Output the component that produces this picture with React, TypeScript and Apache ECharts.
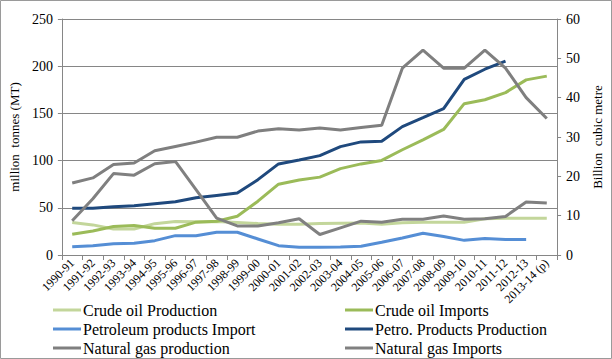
import React, { useEffect, useRef } from 'react';
import * as echarts from 'echarts';

const categories = [
  '1990-91', '1991-92', '1992-93', '1993-94', '1994-95', '1995-96', '1996-97', '1997-98',
  '1998-99', '1999-00', '2000-01', '2001-02', '2002-03', '2003-04', '2004-05', '2005-06',
  '2006-07', '2007-08', '2008-09', '2009-10', '2010-11', '2011-12', '2012-13', '2013-14 (p)',
];

// million tonnes (left axis)
const crudeOilProduction = [34.4, 31.9, 27.5, 27.5, 33.2, 35.6, 35.1, 35.5, 34.4, 33.3, 32.6, 32.6, 33.3, 33.7, 34.0, 32.6, 34.2, 34.6, 34.6, 34.6, 38.3, 38.9, 38.9, 38.9];
const crudeOilImports = [22.0, 25.5, 30.1, 31.2, 28.4, 28.4, 34.8, 35.8, 41.0, 57.0, 75.0, 79.5, 82.5, 91.5, 96.5, 100.2, 111.5, 122.0, 133.0, 160.3, 164.5, 172.0, 185.5, 189.5];
const petroleumProductsImport = [8.8, 9.9, 12.0, 12.4, 15.2, 20.5, 20.5, 24.1, 24.1, 17.0, 9.9, 8.2, 8.2, 8.5, 9.2, 13.5, 18.0, 23.0, 19.5, 15.5, 17.5, 16.5, 16.5, null];
const petroProductsProduction = [49.6, 49.6, 51.0, 52.1, 54.3, 56.4, 60.6, 63.1, 65.6, 79.8, 96.5, 100.7, 105.3, 114.8, 119.8, 120.6, 136.0, 145.4, 155.0, 186.0, 196.8, 205.3, null, null];
// billion cubic metre (right axis)
const naturalGasProduction = [18.3, 19.6, 23.0, 23.4, 26.5, 27.6, 28.7, 29.95, 29.95, 31.5, 32.1, 31.8, 32.3, 31.8, 32.4, 33.0, 47.5, 52.1, 47.5, 47.5, 52.1, 47.5, 40.0, 34.7];
const naturalGasImports = [8.7, 14.3, 20.7, 20.3, 23.2, 23.8, 16.6, 9.4, 7.4, 7.4, 8.2, 9.2, 5.2, 6.9, 8.6, 8.3, 9.1, 9.1, 9.9, 9.1, 9.2, 9.8, 13.5, 13.2];

const leftTicks = { min: 0, max: 250, interval: 50 };
const rightTicks = { min: 0, max: 60, interval: 10 };

const FONT = "'Liberation Serif', 'Times New Roman', serif";

export default function App() {
  const ref = useRef<HTMLDivElement>(null);
  useEffect(() => {
    const chart = echarts.init(ref.current!, null, { renderer: 'svg' });
    const mk = (name: string, data: (number | null)[], color: string, yAxisIndex = 0) => ({
      name,
      type: 'line',
      data,
      yAxisIndex,
      symbol: 'none',
      smooth: false,
      connectNulls: false,
      lineStyle: { color, width: 3 },
      itemStyle: { color },
    });
    const legendBase = {
      orient: 'vertical',
      top: 302,
      height: 57,
      padding: 0,
      itemWidth: 28,
      itemHeight: 3,
      itemGap: 3,
      icon: 'rect',
      textStyle: { fontFamily: FONT, fontSize: 16, color: '#000', padding: [0, 0, 0, -3] },
    };
    chart.setOption({
      animation: false,
      textStyle: { fontFamily: FONT },
      graphic: [
        {
          type: 'rect',
          silent: true,
          shape: { x: 0.5, y: 0.5, width: 611, height: 358 },
          style: { fill: 'none', stroke: '#9a9a9a', lineWidth: 1 },
        },
      ],
      grid: { left: 60, right: 53, top: 19, bottom: 104, containLabel: false },
      legend: [
        {
          ...legendBase,
          left: 53,
          data: ['Crude oil Production', 'Petroleum products Import', 'Natural gas production'],
        },
        {
          ...legendBase,
          left: 345,
          data: ['Crude oil Imports', 'Petro. Products Production', 'Natural gas Imports'],
        },
      ],
      xAxis: {
        type: 'category',
        data: categories,
        boundaryGap: true,
        axisLine: { lineStyle: { color: '#868686', width: 1 } },
        axisTick: { show: true, length: 5, lineStyle: { color: '#868686' } },
        axisLabel: { rotate: 45, interval: 0, fontSize: 12, color: '#000', fontFamily: FONT, margin: 6 },
        splitLine: { show: false },
      },
      yAxis: [
        {
          type: 'value',
          ...leftTicks,
          position: 'left',
          name: 'million  tonnes (MT)',
          nameLocation: 'middle',
          nameRotate: 90,
          nameGap: 38,
          nameTextStyle: { fontFamily: FONT, fontSize: 13, color: '#000' },
          axisLine: { show: true, lineStyle: { color: '#868686', width: 1 } },
          axisTick: { show: true, length: 4, lineStyle: { color: '#868686' } },
          axisLabel: { fontSize: 14, color: '#000', fontFamily: FONT, margin: 9 },
          splitLine: { show: true, lineStyle: { color: '#868686', width: 1 } },
        },
        {
          type: 'value',
          ...rightTicks,
          position: 'right',
          name: 'Billion  cubic metre',
          nameLocation: 'middle',
          nameRotate: 90,
          nameGap: 31,
          nameTextStyle: { fontFamily: FONT, fontSize: 13, color: '#000' },
          axisLine: { show: true, lineStyle: { color: '#868686', width: 1 } },
          axisTick: { show: true, length: 4, lineStyle: { color: '#868686' } },
          axisLabel: { fontSize: 14, color: '#000', fontFamily: FONT, margin: 9 },
          splitLine: { show: false },
        },
      ],
      series: [
        mk('Crude oil Production', crudeOilProduction, '#C3D69B'),
        mk('Crude oil Imports', crudeOilImports, '#9BBB59'),
        mk('Petroleum products Import', petroleumProductsImport, '#558ED5'),
        mk('Petro. Products Production', petroProductsProduction, '#1F497D'),
        mk('Natural gas production', naturalGasProduction, '#7F7F7F', 1),
        mk('Natural gas Imports', naturalGasImports, '#808080', 1),
      ],
    });
    return () => chart.dispose();
  }, []);
  return (
    <div style={{ position: 'fixed', left: 0, top: 0, width: 612, height: 359, background: '#fff' }}>
      <div ref={ref} style={{ width: 612, height: 359 }} />
    </div>
  );
}
